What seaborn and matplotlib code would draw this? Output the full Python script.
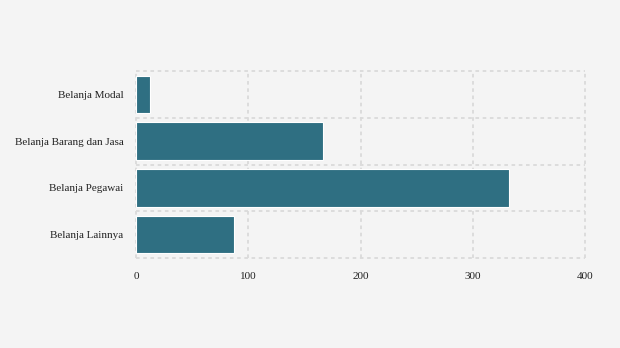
import matplotlib
matplotlib.use("Agg")
import matplotlib.pyplot as plt
import seaborn as sns
import pandas as pd
import numpy as np

categories = ["Belanja Modal", "Belanja Barang dan Jasa", "Belanja Pegawai", "Belanja Lainnya"]
values = [12.5, 167, 332.5, 87.5]
xticks = [0, 100, 200, 300, 400]

sns.set_style("white")
plt.rcParams['font.family'] = ['Liberation Serif', 'DejaVu Serif']

bg = "#f4f4f4"
fig = plt.figure(figsize=(6.2, 3.48), dpi=100, facecolor=bg)
ax = fig.add_axes([136/620, 1-258/348, (585-136)/620, (258-71)/348])
ax.set_facecolor(bg)

df = pd.DataFrame({"cat": categories, "val": values})
sns.barplot(data=df, y="cat", x="val", orient="h", color="#2f6f82", saturation=1,
            width=0.8, edgecolor="white", linewidth=0.8, ax=ax, zorder=3)

ax.set_xlim(0, 400)
ax.set_ylim(len(categories)-0.5, -0.5)
ax.set_xticks(xticks)
ax.set_xticklabels([str(t) for t in xticks], fontsize=8, color="#222222")
ax.set_yticks(range(len(categories)))
ax.set_yticklabels(categories, fontsize=8, color="#222222")
ax.set_xlabel("")
ax.set_ylabel("")
for s in ax.spines.values():
    s.set_visible(False)
ax.grid(False)
gridkw = dict(color="#dadada", linestyle=(0, (2, 2)), linewidth=1.3, zorder=1, clip_on=False)
for t in xticks:
    ax.axvline(t, **gridkw)
for y in np.arange(-0.5, len(categories), 1.0):
    ax.axhline(y, **gridkw)
ax.tick_params(axis="y", which="major", length=5, color="#dddddd", pad=4, width=1)
ax.tick_params(axis="x", length=0, pad=10)

fig.savefig("out.png", dpi=100, facecolor=bg)
